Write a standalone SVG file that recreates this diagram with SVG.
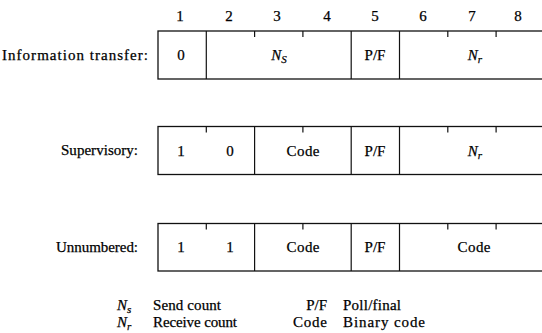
<svg xmlns="http://www.w3.org/2000/svg" width="542" height="333" viewBox="0 0 542 333">
<style>
text{font-family:"Liberation Serif","Times New Roman",serif;font-size:15px;fill:#000;stroke:#000;stroke-width:0.25}
.c{text-anchor:middle}
.e{text-anchor:end}
.i{font-style:italic}
.box{fill:none;stroke:#111;stroke-width:1.3}
.ln{stroke:#111;stroke-width:1.2}
</style>
<rect width="542" height="333" fill="#fff"/>
<g id="bit-numbers">
<text class="c" x="180" y="21">1</text>
<text class="c" x="229" y="21">2</text>
<text class="c" x="277" y="21">3</text>
<text class="c" x="327" y="21">4</text>
<text class="c" x="375" y="21">5</text>
<text class="c" x="423" y="21">6</text>
<text class="c" x="472" y="21">7</text>
<text class="c" x="518" y="21">8</text>
</g>
<g id="information-transfer">
<text class="e" x="148" y="60" textLength="146" lengthAdjust="spacing">Information transfer:</text>
<rect class="box" x="158" y="31" width="392" height="48"/>
<line class="ln" x1="206.3" y1="31" x2="206.3" y2="79"/>
<line class="ln" x1="254.6" y1="31" x2="254.6" y2="37"/>
<line class="ln" x1="302.9" y1="31" x2="302.9" y2="37"/>
<line class="ln" x1="351.2" y1="31" x2="351.2" y2="79"/>
<line class="ln" x1="399.5" y1="31" x2="399.5" y2="79"/>
<line class="ln" x1="447.8" y1="31" x2="447.8" y2="37"/>
<line class="ln" x1="496.1" y1="31" x2="496.1" y2="37"/>
<text class="c" x="181" y="60">0</text>
<text class="c i" x="279" y="60">N<tspan font-size="11" dy="3">S</tspan></text>
<text class="c" x="375" y="60">P/F</text>
<text class="c i" x="475" y="60">N<tspan font-size="11" dy="3">r</tspan></text>
</g>
<g id="supervisory">
<text class="e" x="138" y="155" textLength="77" lengthAdjust="spacing">Supervisory:</text>
<rect class="box" x="158" y="126.5" width="392" height="48"/>
<line class="ln" x1="206.3" y1="126.5" x2="206.3" y2="132.5"/>
<line class="ln" x1="254.6" y1="126.5" x2="254.6" y2="174.5"/>
<line class="ln" x1="302.9" y1="126.5" x2="302.9" y2="132.5"/>
<line class="ln" x1="351.2" y1="126.5" x2="351.2" y2="174.5"/>
<line class="ln" x1="399.5" y1="126.5" x2="399.5" y2="174.5"/>
<line class="ln" x1="447.8" y1="126.5" x2="447.8" y2="132.5"/>
<line class="ln" x1="496.1" y1="126.5" x2="496.1" y2="132.5"/>
<text class="c" x="181" y="156">1</text>
<text class="c" x="230" y="156">0</text>
<text class="c" x="303" y="156" textLength="33" lengthAdjust="spacing">Code</text>
<text class="c" x="375" y="156">P/F</text>
<text class="c i" x="475" y="156">N<tspan font-size="11" dy="3">r</tspan></text>
</g>
<g id="unnumbered">
<text class="e" x="138" y="252" textLength="82" lengthAdjust="spacing">Unnumbered:</text>
<rect class="box" x="158" y="223.5" width="392" height="47.5"/>
<line class="ln" x1="206.3" y1="223.5" x2="206.3" y2="229.5"/>
<line class="ln" x1="254.6" y1="223.5" x2="254.6" y2="271"/>
<line class="ln" x1="302.9" y1="223.5" x2="302.9" y2="229.5"/>
<line class="ln" x1="351.2" y1="223.5" x2="351.2" y2="271"/>
<line class="ln" x1="399.5" y1="223.5" x2="399.5" y2="271"/>
<line class="ln" x1="447.8" y1="223.5" x2="447.8" y2="229.5"/>
<line class="ln" x1="496.1" y1="223.5" x2="496.1" y2="229.5"/>
<text class="c" x="181" y="252">1</text>
<text class="c" x="230" y="252">1</text>
<text class="c" x="303" y="252" textLength="33" lengthAdjust="spacing">Code</text>
<text class="c" x="375" y="252">P/F</text>
<text class="c" x="474" y="252" textLength="33" lengthAdjust="spacing">Code</text>
</g>
<g id="legend">
<text class="i" x="117" y="310">N<tspan font-size="11" dy="3">s</tspan></text>
<text x="153" y="310" textLength="68" lengthAdjust="spacing">Send count</text>
<text class="i" x="117" y="327">N<tspan font-size="11" dy="3">r</tspan></text>
<text x="153" y="327" textLength="84" lengthAdjust="spacing">Receive count</text>
<text class="e" x="327" y="310">P/F</text>
<text x="343" y="310" textLength="58" lengthAdjust="spacing">Poll/final</text>
<text class="e" x="327" y="327" textLength="34" lengthAdjust="spacing">Code</text>
<text x="343" y="327" textLength="82" lengthAdjust="spacing">Binary code</text>
</g>
</svg>
